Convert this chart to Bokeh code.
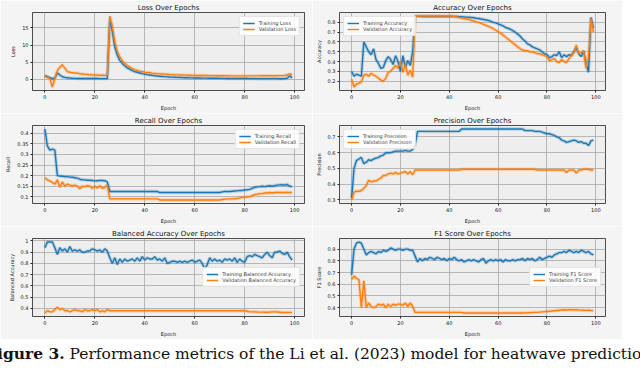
from bokeh.plotting import figure
from bokeh.models import FixedTicker, Range1d, Div
from bokeh.layouts import column, row
from bokeh.embed import file_html
from bokeh.resources import INLINE

epochs = list(range(100))
x_ticks = [0, 20, 40, 60, 80, 100]

loss_train = [1.0, 0.7, 0.4, 0.1, 0.3, 1.8, 1.2, 0.7, 0.5, 0.4,
              0.3, 0.25, 0.22, 0.2, 0.2, 0.2, 0.18, 0.18, 0.17, 0.17,
              0.16, 0.16, 0.15, 0.15, 0.15, 0.15, 17.5, 14.0, 9.5, 7.0,
              5.5, 4.6, 3.9, 3.3, 2.9, 2.5, 2.2, 2.0, 1.8, 1.6,
              1.45, 1.3, 1.2, 1.1, 1.0, 0.92, 0.85, 0.78, 0.72, 0.67,
              0.62, 0.58, 0.54, 0.5, 0.47, 0.44, 0.41, 0.39, 0.37, 0.35,
              0.33, 0.32, 0.31, 0.3, 0.29, 0.28, 0.27, 0.26, 0.25, 0.24,
              0.23, 0.22, 0.21, 0.2, 0.2, 0.19, 0.18, 0.18, 0.17, 0.17,
              0.16, 0.16, 0.15, 0.15, 0.15, 0.14, 0.14, 0.14, 0.14, 0.13,
              0.13, 0.13, 0.13, 0.13, 0.12, 0.12, 0.15, 0.25, 0.9, 0.35]
loss_val = [0.8, 0.5, 0.2, -2.3, 0.2, 2.5, 3.5, 4.2, 3.2, 2.2,
            2.0, 1.9, 1.8, 1.7, 1.6, 1.5, 1.4, 1.35, 1.3, 1.25,
            1.2, 1.2, 1.15, 1.15, 1.1, 1.1, 18.5, 15.5, 11.0, 8.2,
            6.5, 5.4, 4.6, 4.0, 3.5, 3.1, 2.8, 2.55, 2.35, 2.2,
            2.05, 1.95, 1.85, 1.75, 1.68, 1.6, 1.55, 1.5, 1.45, 1.4,
            1.35, 1.32, 1.28, 1.25, 1.22, 1.2, 1.17, 1.15, 1.13, 1.11,
            1.1, 1.08, 1.07, 1.06, 1.05, 1.04, 1.03, 1.02, 1.01, 1.0,
            0.99, 0.98, 0.97, 0.97, 0.96, 0.96, 0.95, 0.95, 0.94, 0.94,
            0.94, 0.94, 0.95, 0.95, 0.95, 0.96, 0.96, 0.97, 0.97, 0.98,
            0.98, 0.99, 1.0, 1.0, 1.01, 1.02, 1.05, 1.2, 1.5, 1.3]

acc_train = [0.30, 0.25, 0.27, 0.26, 0.25, 0.60, 0.55, 0.50, 0.47, 0.53,
             0.42, 0.38, 0.33, 0.34, 0.41, 0.45, 0.42, 0.37, 0.46, 0.40,
             0.30, 0.46, 0.34, 0.41, 0.36, 0.50, 0.86, 0.862, 0.862, 0.861,
             0.861, 0.861, 0.86, 0.86, 0.86, 0.86, 0.86, 0.86, 0.86, 0.86,
             0.86, 0.86, 0.86, 0.86, 0.859, 0.858, 0.856, 0.854, 0.852, 0.85,
             0.847, 0.843, 0.84, 0.835, 0.83, 0.825, 0.82, 0.81, 0.80, 0.795,
             0.785, 0.775, 0.765, 0.75, 0.74, 0.73, 0.715, 0.70, 0.68, 0.66,
             0.63, 0.61, 0.58, 0.57, 0.55, 0.54, 0.53, 0.52, 0.50, 0.48,
             0.47, 0.44, 0.45, 0.47, 0.46, 0.50, 0.44, 0.47, 0.45, 0.47,
             0.46, 0.50, 0.54, 0.48, 0.45, 0.51, 0.38, 0.29, 0.85, 0.74]
acc_val = [0.22, 0.14, 0.17, 0.18, 0.19, 0.26, 0.27, 0.25, 0.28, 0.26,
           0.25, 0.23, 0.21, 0.20, 0.23, 0.29, 0.30, 0.33, 0.36, 0.33,
           0.40, 0.29, 0.37, 0.26, 0.31, 0.24, 0.86, 0.865, 0.865, 0.865,
           0.865, 0.865, 0.865, 0.865, 0.865, 0.865, 0.865, 0.865, 0.865, 0.865,
           0.865, 0.865, 0.86, 0.855, 0.85, 0.845, 0.84, 0.835, 0.83, 0.82,
           0.815, 0.805, 0.80, 0.79, 0.78, 0.77, 0.76, 0.75, 0.735, 0.72,
           0.705, 0.69, 0.67, 0.65, 0.63, 0.61, 0.59, 0.57, 0.55, 0.53,
           0.52, 0.51, 0.51, 0.50, 0.50, 0.49, 0.48, 0.48, 0.47, 0.46,
           0.45, 0.41, 0.42, 0.43, 0.40, 0.39, 0.42, 0.40, 0.39, 0.43,
           0.46, 0.49, 0.57, 0.48, 0.49, 0.51, 0.33, 0.45, 0.84, 0.70]

rec_train = [0.42, 0.34, 0.32, 0.325, 0.32, 0.20, 0.198, 0.197, 0.195, 0.195,
             0.193, 0.192, 0.19, 0.188, 0.183, 0.18, 0.18, 0.178, 0.178, 0.177,
             0.175, 0.176, 0.177, 0.177, 0.176, 0.17, 0.125, 0.125, 0.125, 0.125,
             0.125, 0.125, 0.125, 0.125, 0.125, 0.125, 0.125, 0.125, 0.125, 0.125,
             0.125, 0.125, 0.125, 0.125, 0.125, 0.125, 0.12, 0.12, 0.12, 0.12,
             0.12, 0.12, 0.12, 0.12, 0.12, 0.12, 0.12, 0.12, 0.12, 0.12,
             0.12, 0.12, 0.12, 0.12, 0.12, 0.12, 0.12, 0.12, 0.12, 0.12,
             0.12, 0.123, 0.125, 0.125, 0.125, 0.126, 0.127, 0.128, 0.13, 0.13,
             0.132, 0.133, 0.135, 0.14, 0.145, 0.147, 0.148, 0.15, 0.148, 0.15,
             0.152, 0.15, 0.152, 0.155, 0.156, 0.157, 0.155, 0.158, 0.15, 0.148]
rec_val = [0.19, 0.18, 0.175, 0.168, 0.16, 0.18, 0.145, 0.17, 0.15, 0.16,
           0.155, 0.152, 0.155, 0.15, 0.138, 0.15, 0.148, 0.152, 0.15, 0.14,
           0.15, 0.142, 0.152, 0.14, 0.145, 0.155, 0.09, 0.09, 0.09, 0.09,
           0.09, 0.09, 0.09, 0.09, 0.09, 0.09, 0.09, 0.09, 0.09, 0.09,
           0.09, 0.09, 0.09, 0.09, 0.09, 0.09, 0.085, 0.085, 0.085, 0.085,
           0.085, 0.085, 0.085, 0.085, 0.085, 0.085, 0.085, 0.085, 0.085, 0.085,
           0.085, 0.085, 0.085, 0.085, 0.085, 0.085, 0.085, 0.085, 0.085, 0.085,
           0.085, 0.087, 0.088, 0.09, 0.09, 0.09, 0.091, 0.092, 0.095, 0.097,
           0.098, 0.10, 0.10, 0.105, 0.11, 0.112, 0.115, 0.115, 0.118, 0.118,
           0.12, 0.118, 0.12, 0.12, 0.121, 0.12, 0.12, 0.121, 0.12, 0.12]

prec_train = [0.31, 0.50, 0.55, 0.56, 0.57, 0.53, 0.54, 0.555, 0.55, 0.56,
              0.565, 0.57, 0.58, 0.585, 0.60, 0.60, 0.60, 0.605, 0.61, 0.61,
              0.61, 0.61, 0.615, 0.61, 0.61, 0.62, 0.65, 0.735, 0.735, 0.735,
              0.735, 0.735, 0.735, 0.735, 0.735, 0.735, 0.735, 0.735, 0.735, 0.735,
              0.735, 0.735, 0.735, 0.735, 0.735, 0.75, 0.75, 0.75, 0.75, 0.75,
              0.75, 0.75, 0.75, 0.75, 0.75, 0.75, 0.75, 0.75, 0.75, 0.75,
              0.75, 0.75, 0.75, 0.75, 0.75, 0.75, 0.75, 0.75, 0.75, 0.75,
              0.75, 0.74, 0.74, 0.74, 0.74, 0.735, 0.735, 0.735, 0.73, 0.725,
              0.72, 0.72, 0.715, 0.71, 0.70, 0.695, 0.68, 0.675, 0.665, 0.67,
              0.675, 0.68, 0.675, 0.665, 0.67, 0.66, 0.66, 0.645, 0.675, 0.68]
prec_val = [0.30, 0.35, 0.355, 0.355, 0.36, 0.375, 0.39, 0.425, 0.415, 0.42,
            0.42, 0.43, 0.44, 0.455, 0.455, 0.465, 0.47, 0.465, 0.475, 0.465,
            0.47, 0.475, 0.48, 0.465, 0.48, 0.46, 0.49, 0.49, 0.49, 0.49,
            0.49, 0.49, 0.49, 0.49, 0.49, 0.49, 0.49, 0.49, 0.49, 0.49,
            0.49, 0.49, 0.49, 0.49, 0.49, 0.495, 0.495, 0.495, 0.495, 0.495,
            0.495, 0.495, 0.495, 0.495, 0.495, 0.495, 0.495, 0.495, 0.495, 0.495,
            0.495, 0.495, 0.495, 0.495, 0.495, 0.495, 0.495, 0.495, 0.495, 0.495,
            0.495, 0.495, 0.495, 0.495, 0.495, 0.495, 0.49, 0.49, 0.49, 0.49,
            0.49, 0.49, 0.49, 0.49, 0.49, 0.49, 0.49, 0.49, 0.475, 0.49,
            0.49, 0.49, 0.47, 0.49, 0.49, 0.495, 0.495, 0.495, 0.49, 0.49]

bal_train = [0.94, 0.99, 0.99, 0.99, 0.94, 0.88, 0.94, 0.91, 0.93, 0.90,
             0.95, 0.91, 0.92, 0.91, 0.92, 0.90, 0.90, 0.91, 0.91, 0.93,
             0.92, 0.91, 0.92, 0.90, 0.93, 0.91, 0.85, 0.80, 0.85, 0.79,
             0.84, 0.81, 0.84, 0.82, 0.83, 0.84, 0.82, 0.85, 0.82, 0.86,
             0.83, 0.85, 0.84, 0.84, 0.86, 0.83, 0.84, 0.82, 0.85, 0.80,
             0.81, 0.82, 0.82, 0.81, 0.82, 0.81, 0.82, 0.81, 0.82, 0.83,
             0.81, 0.82, 0.83, 0.80, 0.75, 0.79, 0.85, 0.82, 0.84, 0.82,
             0.83, 0.81, 0.84, 0.83, 0.84, 0.82, 0.85, 0.81, 0.84, 0.82,
             0.81, 0.86, 0.87, 0.86, 0.88, 0.87, 0.86, 0.85, 0.88, 0.90,
             0.87, 0.85, 0.90, 0.90, 0.91, 0.89, 0.88, 0.90, 0.86, 0.83]
bal_val = [0.36, 0.38, 0.37, 0.37, 0.39, 0.41, 0.39, 0.40, 0.38, 0.38,
           0.37, 0.38, 0.39, 0.38, 0.38, 0.37, 0.39, 0.38, 0.38, 0.39,
           0.38, 0.39, 0.37, 0.38, 0.37, 0.39, 0.38, 0.38, 0.38, 0.38,
           0.38, 0.38, 0.38, 0.38, 0.38, 0.38, 0.38, 0.38, 0.38, 0.38,
           0.38, 0.38, 0.38, 0.38, 0.38, 0.38, 0.38, 0.38, 0.38, 0.38,
           0.38, 0.38, 0.38, 0.38, 0.38, 0.38, 0.38, 0.38, 0.38, 0.38,
           0.38, 0.38, 0.38, 0.38, 0.38, 0.38, 0.38, 0.38, 0.38, 0.38,
           0.38, 0.38, 0.38, 0.38, 0.38, 0.38, 0.38, 0.38, 0.38, 0.38,
           0.38, 0.375, 0.37, 0.37, 0.37, 0.368, 0.367, 0.367, 0.366, 0.366,
           0.367, 0.37, 0.37, 0.368, 0.366, 0.364, 0.364, 0.364, 0.365, 0.365]

f1_train = [0.68, 0.90, 0.95, 0.96, 0.95, 0.90, 0.85, 0.87, 0.88, 0.87,
            0.86, 0.88, 0.87, 0.89, 0.88, 0.89, 0.91, 0.90, 0.89, 0.90,
            0.90, 0.89, 0.90, 0.90, 0.89, 0.89, 0.84, 0.79, 0.82, 0.80,
            0.82, 0.81, 0.83, 0.82, 0.81, 0.83, 0.82, 0.81, 0.82, 0.80,
            0.82, 0.81, 0.83, 0.81, 0.80, 0.81, 0.79, 0.80, 0.81, 0.80,
            0.81, 0.80, 0.79, 0.81, 0.82, 0.78, 0.80, 0.81, 0.80, 0.81,
            0.80, 0.81, 0.79, 0.81, 0.80, 0.80, 0.81, 0.80, 0.81, 0.81,
            0.82, 0.80, 0.82, 0.81, 0.82, 0.80, 0.81, 0.83, 0.81, 0.82,
            0.83, 0.84, 0.83, 0.85, 0.86, 0.87, 0.87, 0.88, 0.87, 0.89,
            0.88, 0.87, 0.88, 0.87, 0.89, 0.88, 0.87, 0.88, 0.86, 0.85]
f1_val = [0.64, 0.67, 0.65, 0.64, 0.40, 0.63, 0.40, 0.44, 0.41, 0.40,
          0.41, 0.43, 0.42, 0.43, 0.40, 0.43, 0.41, 0.43, 0.42, 0.43,
          0.43, 0.42, 0.44, 0.41, 0.44, 0.41, 0.36, 0.36, 0.36, 0.36,
          0.36, 0.36, 0.36, 0.36, 0.36, 0.36, 0.36, 0.36, 0.36, 0.36,
          0.36, 0.36, 0.36, 0.36, 0.36, 0.36, 0.355, 0.355, 0.355, 0.355,
          0.355, 0.355, 0.355, 0.355, 0.355, 0.355, 0.355, 0.355, 0.355, 0.355,
          0.355, 0.355, 0.355, 0.355, 0.355, 0.355, 0.355, 0.355, 0.355, 0.355,
          0.355, 0.356, 0.357, 0.358, 0.359, 0.36, 0.36, 0.362, 0.364, 0.366,
          0.368, 0.37, 0.372, 0.374, 0.376, 0.378, 0.38, 0.382, 0.38, 0.383,
          0.382, 0.38, 0.383, 0.38, 0.379, 0.378, 0.377, 0.378, 0.376, 0.375]

panels = [
    ("Loss Over Epochs", "Loss", loss_train, loss_val, "Training Loss", "Validation Loss",
     [0, 5, 10, 15], "top_right"),
    ("Accuracy Over Epochs", "Accuracy", acc_train, acc_val, "Training Accuracy", "Validation Accuracy",
     [0.2, 0.3, 0.4, 0.5, 0.6, 0.7, 0.8], "top_left"),
    ("Recall Over Epochs", "Recall", rec_train, rec_val, "Training Recall", "Validation Recall",
     [0.10, 0.15, 0.20, 0.25, 0.30, 0.35, 0.40], "top_right"),
    ("Precision Over Epochs", "Precision", prec_train, prec_val, "Training Precision", "Validation Precision",
     [0.3, 0.4, 0.5, 0.6, 0.7], "top_left"),
    ("Balanced Accuracy Over Epochs", "Balanced Accuracy", bal_train, bal_val,
     "Training Balanced Accuracy", "Validation Balanced Accuracy",
     [0.4, 0.5, 0.6, 0.7, 0.8, 0.9, 1.0], "right"),
    ("F1 Score Over Epochs", "F1 Score", f1_train, f1_val, "Training F1 Score", "Validation F1 Score",
     [0.4, 0.5, 0.6, 0.7, 0.8, 0.9], "right"),
]

BLUE = "#1f77b4"
ORANGE = "#ff7f0e"
FONT = "DejaVu Sans"
ROW_H = 113


def make(i, title, ylab, tr, va, trlab, valab, yticks, legloc):
    left = (i % 2 == 0)
    lo = min(tr + va)
    hi = max(tr + va)
    m = (hi - lo) * 0.05
    p = figure(width=312 if left else 310, height=ROW_H, output_backend="svg",
               toolbar_location=None,
               x_range=Range1d(-4.95, 103.95), y_range=Range1d(lo - m, hi + m),
               title=title,
               min_border_left=32 if left else 27, min_border_right=8 if left else 17,
               min_border_top=0, min_border_bottom=0)
    p.background_fill_color = "#eeeeee"
    p.border_fill_color = "#f4f4f4"
    p.outline_line_color = "#222222"
    p.outline_line_width = 0.8
    p.title.text_font = FONT
    p.title.text_font_size = "7px"
    p.title.text_font_style = "normal"
    p.title.align = "center"
    p.title.text_color = "#111111"
    p.title.standoff = 2
    for ax in (p.xaxis[0], p.yaxis[0]):
        ax.major_label_text_font = FONT
        ax.major_label_text_font_size = "5px"
        ax.major_label_text_color = "#111111"
        ax.axis_label_text_font = FONT
        ax.axis_label_text_font_size = "5px"
        ax.axis_label_text_font_style = "normal"
        ax.axis_label_text_color = "#111111"
        ax.axis_label_standoff = 3
        ax.major_label_standoff = 2
        ax.major_tick_out = 2
        ax.major_tick_in = 0
        ax.minor_tick_out = 0
        ax.minor_tick_in = 0
        ax.axis_line_color = None
        ax.major_tick_line_color = "#222222"
    p.xaxis[0].ticker = FixedTicker(ticks=x_ticks)
    p.yaxis[0].ticker = FixedTicker(ticks=yticks)
    p.xaxis[0].axis_label = "Epoch"
    p.yaxis[0].axis_label = ylab
    p.grid.grid_line_color = "#a8a8a8"
    p.grid.grid_line_width = 0.8

    p.line(epochs, tr, line_color=BLUE, line_width=3.5, line_alpha=0.25)
    p.line(epochs, va, line_color=ORANGE, line_width=3.5, line_alpha=0.25)
    p.line(epochs, tr, line_color=BLUE, line_width=1.4, legend_label=trlab)
    p.line(epochs, va, line_color=ORANGE, line_width=1.4, legend_label=valab)

    lg = p.legend[0]
    lg.location = legloc
    lg.label_text_font = FONT
    lg.label_text_font_size = "5px"
    lg.label_height = 6
    lg.glyph_height = 6
    lg.glyph_width = 12
    lg.spacing = 0
    lg.padding = 3
    lg.margin = 4
    lg.label_standoff = 4
    lg.border_line_color = "#cccccc"
    lg.border_line_width = 0.6
    lg.background_fill_alpha = 0.85
    return p


figs = [make(i, *pan) for i, pan in enumerate(panels)]

caption = Div(
    text=("<div style=\"margin-left:-19px; white-space:nowrap; font-family:'DejaVu Serif', serif; "
          "font-size:15.5px; color:#111; line-height:20px;\">"
          "<b>Figure 3.</b> Performance metrics of the Li et al. (2023) model for heatwave prediction</div>"),
    width=624, height=20)

layout = column(row(figs[0], figs[1], spacing=0),
                row(figs[2], figs[3], spacing=0),
                row(figs[4], figs[5], spacing=0),
                caption, spacing=0)

open("out.html", "w").write(file_html(layout, INLINE))
